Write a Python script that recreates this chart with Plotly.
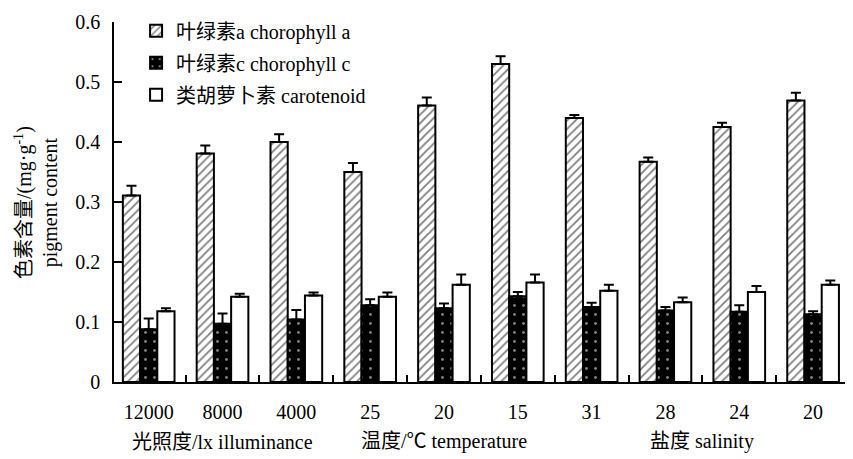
import plotly.graph_objects as go

tick_labels = ["12000", "8000", "4000", "25", "20", "15", "31", "28", "24", "20"]
chl_a = [0.311, 0.381, 0.400, 0.350, 0.461, 0.530, 0.440, 0.367, 0.425, 0.469]
chl_a_err = [0.016, 0.013, 0.013, 0.015, 0.013, 0.013, 0.005, 0.007, 0.007, 0.013]
chl_c = [0.088, 0.097, 0.104, 0.128, 0.123, 0.143, 0.125, 0.119, 0.117, 0.113]
chl_c_err = [0.018, 0.017, 0.016, 0.010, 0.008, 0.007, 0.007, 0.006, 0.011, 0.005]
car = [0.118, 0.142, 0.144, 0.142, 0.162, 0.166, 0.152, 0.133, 0.150, 0.162]
car_err = [0.005, 0.005, 0.005, 0.007, 0.017, 0.013, 0.010, 0.008, 0.010, 0.007]
group_labels = ["光照度/lx illuminance", "温度/℃ temperature", "盐度 salinity"]
group_spans = [(0, 2), (3, 5), (6, 9)]

x = list(range(len(tick_labels)))
FONT = "Liberation Serif, Times New Roman, Noto Sans CJK SC, serif"

def err(vals):
    return dict(type="data", array=vals, arrayminus=[0] * len(vals), symmetric=False,
                color="black", thickness=2, width=5)

fig = go.Figure()
fig.add_trace(go.Bar(
    x=x, y=chl_a, name="叶绿素a chorophyll a", error_y=err(chl_a_err), legendgroup="a",
    marker=dict(color="white", line=dict(color="black", width=2),
                pattern=dict(shape="/", fgcolor="black", bgcolor="white", size=6, solidity=0.3)),
))
fig.add_trace(go.Bar(
    x=x, y=chl_c, name="叶绿素c chorophyll c", error_y=err(chl_c_err), legendgroup="c",
    marker=dict(color="black", line=dict(color="black", width=2),
                pattern=dict(shape=".", fgcolor="white", bgcolor="black", size=9, solidity=0.08)),
))
fig.add_trace(go.Bar(
    x=x, y=car, name="类胡萝卜素 carotenoid", error_y=err(car_err), legendgroup="k",
    marker=dict(color="white", line=dict(color="black", width=2)),
))

annotations = []
for lab, (a, b) in zip(group_labels, group_spans):
    annotations.append(dict(x=(a + b) / 2, y=-0.166, xref="x", yref="paper", text=lab,
                            showarrow=False, font=dict(size=20, color="black", family=FONT),
                            xanchor="center", yanchor="middle"))
annotations.append(dict(x=-0.106, y=0.5, xref="paper", yref="paper",
                        text="色素含量/(mg·g<sup>-1</sup>)<br>pigment content",
                        textangle=-90, showarrow=False,
                        font=dict(size=20, color="black", family=FONT),
                        xanchor="center", yanchor="middle"))

fig.update_layout(
    width=845, height=451,
    margin=dict(l=106, r=3, t=7, b=77),
    paper_bgcolor="white", plot_bgcolor="white",
    barmode="group", bargap=0.3, bargroupgap=0,
    font=dict(family=FONT, size=20, color="black"),
    showlegend=True,
    legend=dict(x=0.03, y=1.03, xanchor="left", yanchor="top", bgcolor="rgba(0,0,0,0)",
                font=dict(size=20, family=FONT), tracegroupgap=3, itemwidth=30),
    annotations=annotations,
    xaxis=dict(range=[-0.47, 9.5], tickmode="array", tickvals=x, ticktext=tick_labels,
               ticks="", showline=True, linecolor="black", linewidth=2, showgrid=False,
               zeroline=False, tickfont=dict(size=20), ticklabelstandoff=11,
               minor=dict(tickmode="array", tickvals=[i + 0.5 for i in range(9)],
                          ticks="inside", ticklen=7, tickcolor="black", tickwidth=1.5,
                          showgrid=False)),
    yaxis=dict(range=[0, 0.6], dtick=0.1, tick0=0, ticks="inside", ticklen=8,
               tickcolor="black", tickwidth=1.5, showline=True, linecolor="black",
               linewidth=1.5, showgrid=False, zeroline=False, tickfont=dict(size=20),
               tickformat="~g", ticklabelstandoff=8),
)

fig.write_html("out.html")
